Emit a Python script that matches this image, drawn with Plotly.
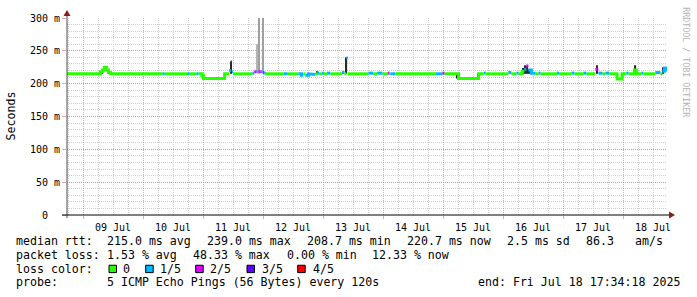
import plotly.graph_objects as go
import pandas as pd

START = "2025-07-08 17:34:18"
END = "2025-07-18 17:34:18"

# median rtt (ms) change points: time, value, loss class (0..4 of 5 pings)
med_time = [
    "2025-07-08 17:34", "2025-07-09 06:55", "2025-07-09 07:43", "2025-07-09 08:31", "2025-07-09 09:19",
    "2025-07-09 10:07", "2025-07-09 10:55", "2025-07-10 06:07", "2025-07-10 06:55", "2025-07-10 07:50",
    "2025-07-10 08:38", "2025-07-10 17:36", "2025-07-10 18:24", "2025-07-10 21:19", "2025-07-10 22:07",
    "2025-07-10 23:31", "2025-07-11 00:07", "2025-07-11 08:38", "2025-07-11 10:24", "2025-07-11 11:12",
    "2025-07-11 11:36", "2025-07-11 12:00", "2025-07-11 19:43", "2025-07-11 20:31", "2025-07-11 21:19",
    "2025-07-11 22:07", "2025-07-11 23:07", "2025-07-11 23:55", "2025-07-12 00:31", "2025-07-12 01:07",
    "2025-07-12 08:14", "2025-07-12 09:36", "2025-07-12 14:07", "2025-07-12 15:19", "2025-07-12 16:07",
    "2025-07-12 16:55", "2025-07-12 18:07", "2025-07-12 19:19", "2025-07-12 20:55", "2025-07-12 21:36",
    "2025-07-12 22:24", "2025-07-12 23:36", "2025-07-13 00:24", "2025-07-13 01:36", "2025-07-13 02:55",
    "2025-07-13 07:36", "2025-07-13 08:31", "2025-07-13 09:19", "2025-07-13 09:55", "2025-07-13 18:07",
    "2025-07-13 20:07", "2025-07-13 21:36", "2025-07-13 23:43", "2025-07-14 01:50", "2025-07-14 02:31",
    "2025-07-14 02:55", "2025-07-14 04:55", "2025-07-14 20:55", "2025-07-14 23:43", "2025-07-15 00:31",
    "2025-07-15 06:14", "2025-07-15 14:14", "2025-07-15 16:14", "2025-07-15 17:02", "2025-07-16 02:06",
    "2025-07-16 03:18", "2025-07-16 05:19", "2025-07-16 06:07", "2025-07-16 07:36", "2025-07-16 08:31",
    "2025-07-16 09:19", "2025-07-16 10:07", "2025-07-16 11:19", "2025-07-16 12:14", "2025-07-16 13:00",
    "2025-07-16 14:14", "2025-07-16 15:00", "2025-07-16 21:36", "2025-07-16 22:24", "2025-07-17 03:19",
    "2025-07-17 04:31", "2025-07-17 08:07", "2025-07-17 09:19", "2025-07-17 12:55", "2025-07-17 14:07",
    "2025-07-17 15:43", "2025-07-17 16:55", "2025-07-17 18:31", "2025-07-17 21:36", "2025-07-17 23:36",
    "2025-07-18 01:19", "2025-07-18 02:07", "2025-07-18 04:31", "2025-07-18 05:19", "2025-07-18 07:19",
    "2025-07-18 08:07", "2025-07-18 12:55", "2025-07-18 14:55", "2025-07-18 15:43", "2025-07-18 16:31",
    "2025-07-18 17:10",
]
med_val = [
    215, 218, 221, 225, 221,
    217, 215, 216, 215, 215,
    215, 215, 215, 215, 215,
    212, 208, 215, 220, 233,
    218, 215, 216, 218, 218,
    218, 218, 217, 216, 215,
    215, 215, 215, 213, 215,
    213, 215, 214, 215, 216,
    215, 216, 215, 216, 215,
    217, 215, 239, 215, 216,
    215, 216, 215, 216, 215,
    215, 215, 215, 216, 215,
    208, 215, 216, 215, 217,
    215, 216, 215, 219, 222,
    227, 221, 216, 216, 215,
    216, 215, 216, 215, 216,
    215, 216, 215, 222, 216,
    215, 216, 215, 207, 215,
    216, 215, 221, 215, 216,
    215, 217, 215, 219, 224,
    221,
]
med_loss = [
    0, 0, 0, 0, 0,
    0, 0, 0, 0, 1,
    0, 1, 0, 1, 0,
    0, 0, 0, 1, 3,
    1, 0, 1, 2, 1,
    2, 1, 2, 1, 0,
    1, 0, 1, 1, 0,
    1, 1, 1, 0, 1,
    0, 1, 0, 1, 0,
    1, 0, 1, 0, 1,
    0, 1, 0, 2, 0,
    1, 0, 1, 2, 0,
    0, 0, 1, 0, 1,
    0, 1, 0, 0, 1,
    2, 1, 1, 1, 0,
    1, 0, 1, 0, 1,
    0, 1, 0, 2, 1,
    0, 1, 0, 0, 0,
    1, 0, 0, 0, 1,
    0, 1, 0, 1, 1,
    1,
]

# smoke (ping spread) spikes: time, low, high (ms), shade
smoke_time = [
    "2025-07-09 07:43", "2025-07-09 10:07", "2025-07-10 23:55", "2025-07-11 08:43", "2025-07-11 11:12",
    "2025-07-11 21:36", "2025-07-11 22:19", "2025-07-11 23:55", "2025-07-12 21:43", "2025-07-13 08:07",
    "2025-07-13 09:19", "2025-07-15 05:36", "2025-07-15 14:14", "2025-07-16 08:07", "2025-07-16 08:55",
    "2025-07-16 09:43", "2025-07-16 10:31", "2025-07-17 13:36", "2025-07-17 21:36", "2025-07-18 04:55",
    "2025-07-18 13:36", "2025-07-18 16:07",
]
smoke_lo = [215, 215, 208, 208, 215, 218, 218, 218, 215, 215, 215, 208, 208, 215, 215, 215, 215, 215, 207, 215, 215, 215]
smoke_hi = [222, 219, 214, 215, 234, 260, 300, 300, 219, 219, 240, 215, 215, 224, 228, 227, 222, 228, 215, 228, 219, 225]
smoke_shade = ["#2a2a2a", "#2a2a2a", "#2a2a2a", "#2a2a2a", "#2a2a2a",
               "#b4b4b4", "#a0a0a0", "#a0a0a0", "#2a2a2a", "#2a2a2a",
               "#2a2a2a", "#2a2a2a", "#2a2a2a", "#2a2a2a", "#2a2a2a",
               "#2a2a2a", "#2a2a2a", "#2a2a2a", "#2a2a2a", "#2a2a2a",
               "#2a2a2a", "#2a2a2a"]

loss_colors = ["#26ff00", "#00b8ff", "#dd00ff", "#5e00ff", "#ff0000"]
loss_labels = ["0", "1/5", "2/5", "3/5", "4/5"]

y_ticks = [0, 50, 100, 150, 200, 250, 300]
y_ticktext = ["0\u00a0\u00a0", "50 m", "100 m", "150 m", "200 m", "250 m", "300 m"]

legend_rtt = [("median rtt:", 16), ("215.0 ms avg", 107.3), ("239.0 ms max", 207.3), ("208.7 ms min", 307.3),
              ("220.7 ms now", 407.3), ("2.5 ms sd", 507.3), ("86.3", 586.3), ("am/s", 635)]
legend_loss = [("packet loss:", 16), ("1.53 % avg", 107.3), ("48.33 % max", 193.3), ("0.00 % min", 286.5),
               ("12.33 % now", 372.3)]
legend_probe = [("probe:", 16), ("5 ICMP Echo Pings (56 Bytes) every 120s", 107.3),
                ("end: Fri Jul 18 17:34:18 2025", 478.3)]

# ---------------- layout geometry ----------------
W, H = 697, 297
L, T, PW, PH = 67, 15, 600, 200
MONO = "DejaVu Sans Mono"


def px(x):
    return (x - L) / PW


def py(y):
    return (T + PH - y) / PH


fig = go.Figure()

# smoke
step_ms = 36 * 60 * 1000
fig.add_trace(go.Bar(
    x=pd.to_datetime(smoke_time), y=[h - l for h, l in zip(smoke_hi, smoke_lo)], base=smoke_lo,
    width=step_ms, marker=dict(color=smoke_shade, line=dict(width=0)), showlegend=False, hoverinfo="skip"))

# median line coloured by loss (each loss class is its own line; no risers between classes)
times = list(pd.to_datetime(med_time)) + [pd.Timestamp(END)]
for cls in range(len(loss_colors)):
    xs, ys = [], []
    for i in range(len(med_time)):
        if med_loss[i] != cls:
            continue
        if i > 0 and med_loss[i - 1] == cls:
            xs += [times[i]]
            ys += [med_val[i - 1]]
        xs += [times[i], times[i + 1]]
        ys += [med_val[i], med_val[i]]
        if i + 1 >= len(med_time) or med_loss[i + 1] != cls:
            xs.append(None)
            ys.append(None)
    if xs:
        fig.add_trace(go.Scatter(x=xs, y=ys, mode="lines", line=dict(color=loss_colors[cls], width=3),
                                 showlegend=False, hoverinfo="skip", connectgaps=False))

major_grid = "rgba(235,90,90,0.55)"
minor_grid = "#cfcfcf"

fig.update_layout(
    width=W, height=H, margin=dict(l=L, r=W - L - PW, t=T, b=H - T - PH),
    paper_bgcolor="white", plot_bgcolor="white", barmode="overlay", showlegend=False,
    font=dict(family=MONO, color="black"),
    xaxis=dict(type="date", range=[START, END], tick0="2025-07-09", dtick=86400000,
               ticklabelmode="period", tickformat="%d %b",
               showgrid=True, gridcolor=major_grid, griddash="1px,1px", gridwidth=1,
               ticks="outside", ticklen=3, tickcolor=major_grid,
               tickfont=dict(family=MONO, size=10, color="black"),
               minor=dict(dtick=6 * 3600 * 1000, showgrid=True, gridcolor=minor_grid, griddash="1px,1px"),
               showline=False, zeroline=False, fixedrange=True),
    yaxis=dict(range=[0, 300], tickvals=y_ticks, ticktext=y_ticktext,
               showgrid=True, gridcolor=major_grid, griddash="1px,1px",
               ticks="outside", ticklen=4, tickcolor=major_grid,
               tickfont=dict(family=MONO, size=10, color="black"),
               minor=dict(dtick=10, showgrid=True, gridcolor=minor_grid, griddash="1px,1px"),
               showline=False, zeroline=False, fixedrange=True),
)

shapes = []
# axis lines with arrows
shapes.append(dict(type="line", xref="paper", yref="paper", x0=px(67), x1=px(67), y0=py(218), y1=py(10),
                   line=dict(color="#4a4a4a", width=1)))
shapes.append(dict(type="line", xref="paper", yref="paper", x0=px(62), x1=px(670), y0=py(215), y1=py(215),
                   line=dict(color="black", width=1)))
shapes.append(dict(type="path", xref="paper", yref="paper", fillcolor="#8b1c1c", line=dict(width=0),
                   path=f"M {px(675)} {py(215)} L {px(669)} {py(211.5)} L {px(669)} {py(218.5)} Z"))
shapes.append(dict(type="path", xref="paper", yref="paper", fillcolor="#8b1c1c", line=dict(width=0),
                   path=f"M {px(67)} {py(7)} L {px(63.5)} {py(13)} L {px(70.5)} {py(13)} Z"))

annotations = []


def txt(s, x, y, size=11.6, color="black", **kw):
    annotations.append(dict(text=s, x=px(x), y=py(y), xref="paper", yref="paper", showarrow=False,
                            xanchor=kw.pop("xanchor", "left"), yanchor="middle", borderpad=0, borderwidth=0,
                            font=dict(family=MONO, size=size, color=color), **kw))


for s, x in legend_rtt:
    txt(s, x, 241.5)
for s, x in legend_loss:
    txt(s, x, 255.5)
txt("loss color:", 16, 269.5)
box_x = [109, 145.7, 195.7, 247, 297.7]
lab_x = [123.3, 160, 210, 261.7, 312.7]
for c, lab, bx, lx in zip(loss_colors, loss_labels, box_x, lab_x):
    shapes.append(dict(type="rect", xref="paper", yref="paper", x0=px(bx), x1=px(bx + 7.5),
                       y0=py(273.5), y1=py(266), fillcolor=c, line=dict(color="black", width=1)))
    txt(lab, lx, 269.5)
for s, x in legend_probe:
    txt(s, x, 283.5)

txt("Seconds", 10, 115, xanchor="center", textangle=-90)
txt("RRDTOOL / TOBI OETIKER", 686, 60, size=8.3, color="#b4b4b4", xanchor="center", textangle=90)

fig.update_layout(shapes=shapes, annotations=annotations)
fig.write_html("out.html")
